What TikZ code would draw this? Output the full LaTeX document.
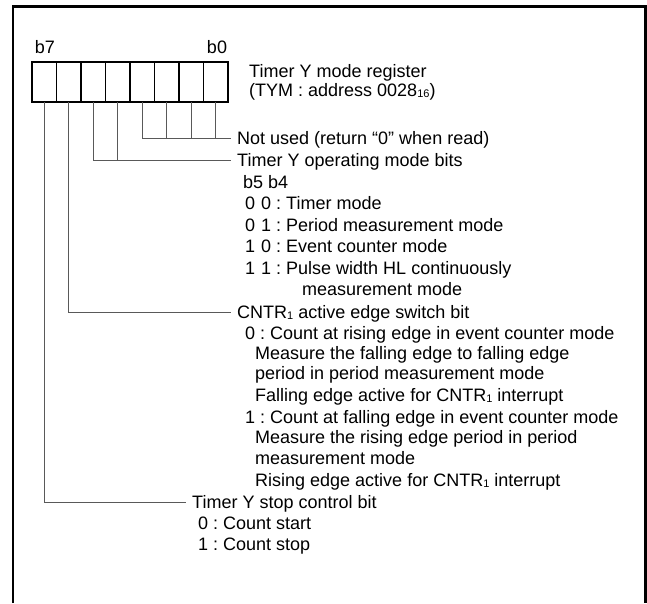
\documentclass[tikz,border=0pt]{standalone}
\usepackage{fontspec}
\setmainfont{Liberation Sans}
\usetikzlibrary{positioning}
\newcommand{\lowidx}[1]{\raisebox{-0.5pt}{\fontsize{11}{11}\selectfont #1}}
\frenchspacing

\begin{document}
\begin{tikzpicture}[line cap=butt,line join=miter,x=1pt,y=-1pt,
	bitcell/.style={draw,line width=1.6pt,minimum width=24.5pt,minimum height=40pt,inner sep=0pt,outer sep=0pt},
	txt/.style={anchor=west,inner sep=0pt,text height=15pt,text depth=2pt,font=\fontsize{18}{21}\selectfont},
	bitlbl/.style={inner sep=0pt,font=\fontsize{18}{21}\selectfont},
	lead/.style={line width=1pt,draw=black!65,shorten >=6pt}]
			\useasboundingbox (0,0) rectangle (647,603);
			\draw [line width=2.3pt] (13,603) -- (13,6.5) -- (645.5,6.5) -- (645.5,603);
			% register cells b7 ... b0
			\foreach \k in {0,...,7} {
				\pgfmathtruncatemacro{\bitno}{7-\k}
				\node[bitcell] (c\bitno) at (44.25+24.5*\k,82) {};
			}
			\node[bitlbl] (lb7) at (45,47) {b7};
			\node[bitlbl] (lb0) at (217,47) {b0};
			\node[txt] (reg1) at (249,71) {Timer Y mode register};
			\node[txt] (reg2) at (249,90) {(TYM : address 0028\lowidx{16})};
			% bit descriptions
			\node[txt] (nu) at (237,138) {Not used (return “0” when read)};
			\node[txt] (op) at (237,160) {Timer Y operating mode bits};
			\node[txt] (op0) at (243,181.5) {b5 b4};
			\node[txt] (op1) at (245,203) {0\hspace{6pt}0 : Timer mode};
			\node[txt] (op2) at (245,224.5) {0\hspace{6pt}1 : Period measurement mode};
			\node[txt] (op3) at (245,246) {1\hspace{6pt}0 : Event counter mode};
			\node[txt] (op4) at (245,267.5) {1\hspace{6pt}1 : Pulse width HL continuously};
			\node[txt] (op4a) at (302,289) {measurement mode};
			\node[txt] (cn) at (237,312) {CNTR\lowidx{1} active edge switch bit};
			\node[txt] (cn0) at (245,333) {0 : Count at rising edge in event counter mode};
			\node[txt] (cn0a) at (255,353) {Measure the falling edge to falling edge};
			\node[txt] (cn0b) at (255,373) {period in period measurement mode};
			\node[txt] (cn0c) at (255,395) {Falling edge active for CNTR\lowidx{1} interrupt};
			\node[txt] (cn1) at (245,417) {1 : Count at falling edge in event counter mode};
			\node[txt] (cn1a) at (255,437) {Measure the rising edge period in period};
			\node[txt] (cn1b) at (255,458) {measurement mode};
			\node[txt] (cn1c) at (255,480) {Rising edge active for CNTR\lowidx{1} interrupt};
			\node[txt] (st) at (192,502) {Timer Y stop control bit};
			\node[txt] (st0) at (198,523) {0 : Count start};
			\node[txt] (st1) at (198,544) {1 : Count stop};
			% leaders
			\draw [lead] (c3.south) |- (nu.west);
			\foreach \b in {0,1,2}
				\draw [lead,shorten >=0pt] (c\b.south) -- (c\b.south |- nu.west);
			\draw [lead] (c5.south) |- (op.west);
			\draw [lead,shorten >=0pt] (c4.south) -- (c4.south |- op.west);
			\draw [lead] (c6.south) |- (cn.west);
			\draw [lead] (c7.south) |- (st.west);
		\end{tikzpicture}
\end{document}
